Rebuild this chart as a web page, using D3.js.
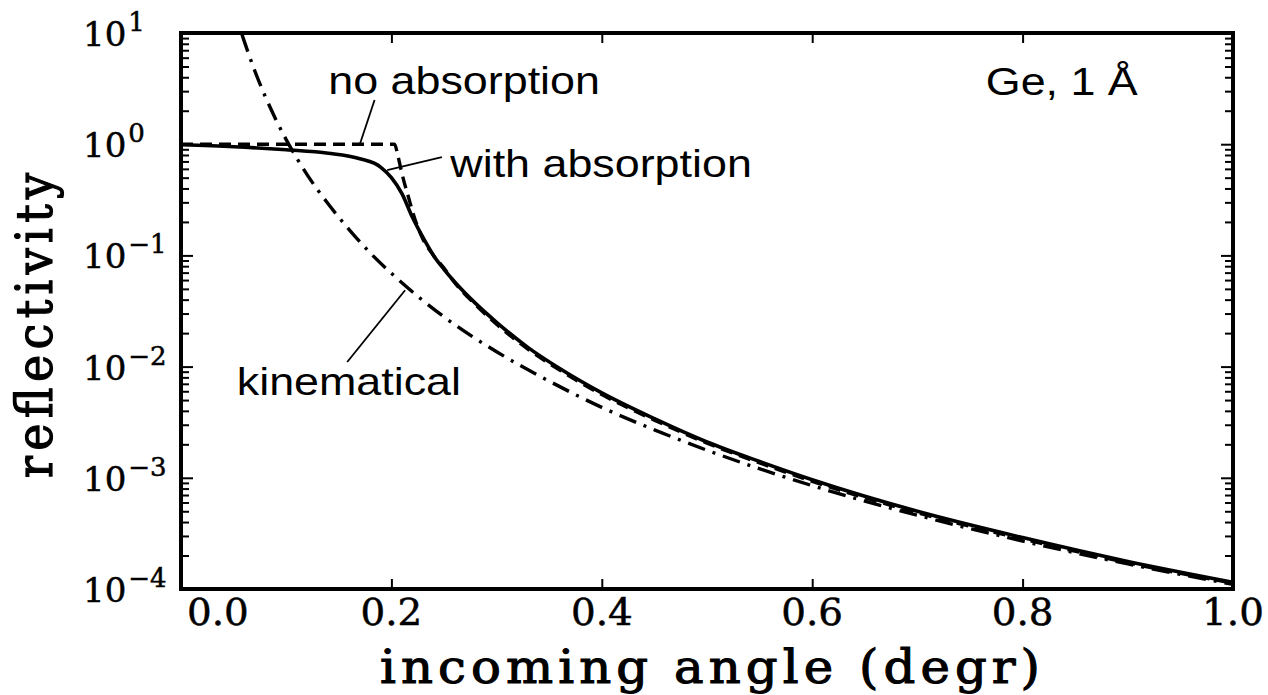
<!DOCTYPE html>
<html>
<head>
<meta charset="utf-8">
<script src="https://cdn.jsdelivr.net/npm/d3@7"></script>
<style>
  html, body { margin: 0; background: #fff; }
  svg { display: block; }
</style>
</head>
<body>
<svg id="chart" width="1268" height="695"></svg>
<script>
// Tick values
const xTickValues = [0, 0.2, 0.4, 0.6, 0.8, 1.0];
const yDecades = [-4, -3, -2, -1, 0, 1];

// Reflectivity with absorption (solid)
const withAbsAngle = [0, 0.05, 0.10, 0.14, 0.17, 0.19, 0.20, 0.21, 0.22, 0.23, 0.24, 0.25, 0.26, 0.28, 0.30, 0.33, 0.36, 0.40, 0.45, 0.50, 0.55, 0.60, 0.70, 0.80, 0.90, 1.00];
const withAbsR     = [0.99, 0.95, 0.89, 0.83, 0.74, 0.62, 0.50, 0.36, 0.22, 0.145, 0.10, 0.075, 0.058, 0.037, 0.025, 0.0148, 0.0096, 0.0058, 0.0034, 0.0021, 0.0014, 0.00096, 0.00050, 0.00029, 0.000177, 0.000115];

// Reflectivity without absorption (dashed)
const noAbsAngle = [0, 0.10, 0.203, 0.206, 0.209, 0.212, 0.216, 0.22, 0.225, 0.23, 0.24, 0.25, 0.26, 0.28, 0.30, 0.33, 0.36, 0.40, 0.45, 0.50, 0.55, 0.60, 0.70, 0.80, 0.90, 1.00];
const noAbsR     = [1.0, 1.0, 1.0, 0.80, 0.60, 0.46, 0.34, 0.25, 0.18, 0.14, 0.10, 0.077, 0.057, 0.036, 0.024, 0.0143, 0.0093, 0.0056, 0.0033, 0.00205, 0.00136, 0.00093, 0.000485, 0.000282, 0.000172, 0.000113];

// Kinematical approximation (dash-dot)
const kinAngle = [0.058, 0.06, 0.07, 0.08, 0.09, 0.10, 0.12, 0.14, 0.16, 0.18, 0.20, 0.25, 0.30, 0.35, 0.40, 0.45, 0.50, 0.60, 0.70, 0.80, 0.90, 1.00];
const kinR     = [9.7, 8.5, 4.6, 2.7, 1.68, 1.10, 0.53, 0.29, 0.17, 0.105, 0.069, 0.028, 0.0136, 0.0074, 0.0043, 0.0027, 0.00177, 0.00085, 0.00046, 0.00027, 0.000168, 0.000110];

// Annotations (anchored in data units)
const noteText  = ["no absorption", "with absorption", "kinematical", "Ge, 1 \u00C5"];
const noteAngle = [0.140, 0.256, 0.053, 0.765];
const noteR     = [2.84, 0.505, 0.00553, 2.77];

const leaderFromAngle = [0.184, 0.248, 0.158];
const leaderFromR     = [2.50, 0.767, 0.011];
const leaderToAngle   = [0.170, 0.196, 0.213];
const leaderToR       = [1.0, 0.586, 0.0486];

const plot = { left: 181, right: 1233, top: 33, bottom: 589 };

const svg = d3.select("#chart");

const x = d3.scaleLinear().domain([0, 1]).range([plot.left, plot.right]);
const y = d3.scaleLog().domain([1e-4, 10]).range([plot.bottom, plot.top]);

svg.append("defs").append("clipPath").attr("id", "plotClip")
  .append("rect")
  .attr("x", plot.left).attr("y", plot.top)
  .attr("width", plot.right - plot.left).attr("height", plot.bottom - plot.top);

const line = d3.line()
  .x(d => x(d[0]))
  .y(d => y(d[1]))
  .curve(d3.curveMonotoneX);

const curves = svg.append("g").attr("clip-path", "url(#plotClip)")
  .attr("fill", "none").attr("stroke", "#000");

curves.append("path")
  .attr("d", line(kinAngle.map((a, i) => [a, kinR[i]])))
  .attr("stroke-width", 3.4)
  .attr("stroke-dasharray", "18,8,3,8");

curves.append("path")
  .attr("d", line(noAbsAngle.map((a, i) => [a, noAbsR[i]])))
  .attr("stroke-width", 3.4)
  .attr("stroke-dasharray", "12,7");

curves.append("path")
  .attr("d", line(withAbsAngle.map((a, i) => [a, withAbsR[i]])))
  .attr("stroke-width", 3.6);

// Leader lines
const leaders = svg.append("g").attr("stroke", "#000").attr("stroke-width", 1.8);
leaderFromAngle.forEach((a, i) => {
  leaders.append("line")
    .attr("x1", x(a)).attr("y1", y(leaderFromR[i]))
    .attr("x2", x(leaderToAngle[i])).attr("y2", y(leaderToR[i]));
});

// Annotation text (Helvetica-like, slightly wide)
noteText.forEach((t, i) => {
  svg.append("text")
    .attr("transform", `translate(${x(noteAngle[i])},${y(noteR[i])}) scale(1.18,1)`)
    .attr("font-family", "'Liberation Sans', Arial, sans-serif")
    .attr("font-size", 38)
    .attr("fill", "#000")
    .text(t);
});

// Axis ticks (inward) on all four sides
function styleAxis(g) {
  g.select(".domain").remove();
  g.selectAll(".tick line").attr("stroke", "#000").attr("stroke-width", 2);
  g.selectAll(".tick text").remove();
}

const xInner = [0.2, 0.4, 0.6, 0.8];
svg.append("g").attr("transform", `translate(0,${plot.bottom})`)
  .call(d3.axisBottom(x).tickValues(xInner).tickSize(-10).tickFormat(""))
  .call(styleAxis);
svg.append("g").attr("transform", `translate(0,${plot.top})`)
  .call(d3.axisTop(x).tickValues(xInner).tickSize(-10).tickFormat(""))
  .call(styleAxis);

const majorY = yDecades.slice(1, -1).map(k => Math.pow(10, k));
const minorY = [];
yDecades.slice(0, -1).forEach(k => {
  for (let m = 2; m <= 9; m++) minorY.push(m * Math.pow(10, k));
});

svg.append("g").attr("transform", `translate(${plot.left},0)`)
  .call(d3.axisLeft(y).tickValues(majorY).tickSize(-12).tickFormat(""))
  .call(styleAxis);
svg.append("g").attr("transform", `translate(${plot.left},0)`)
  .call(d3.axisLeft(y).tickValues(minorY).tickSize(-8).tickFormat(""))
  .call(styleAxis);
svg.append("g").attr("transform", `translate(${plot.right},0)`)
  .call(d3.axisRight(y).tickValues(majorY).tickSize(-12).tickFormat(""))
  .call(styleAxis);
svg.append("g").attr("transform", `translate(${plot.right},0)`)
  .call(d3.axisRight(y).tickValues(minorY).tickSize(-8).tickFormat(""))
  .call(styleAxis);

// Frame
svg.append("rect")
  .attr("x", plot.left).attr("y", plot.top)
  .attr("width", plot.right - plot.left).attr("height", plot.bottom - plot.top)
  .attr("fill", "none").attr("stroke", "#000").attr("stroke-width", 4);

// X tick labels
const serif = "'DejaVu Serif', serif";
const fmt = d3.format(".1f");
xTickValues.forEach(v => {
  const first = v === xTickValues[0];
  svg.append("text")
    .attr("transform", `translate(${first ? x(v) + 6 : x(v)},625) scale(1.05,1)`)
    .attr("text-anchor", first ? "start" : "middle")
    .attr("font-family", serif)
    .attr("font-size", 37)
    .attr("fill", "#000")
    .attr("stroke", "#000").attr("stroke-width", 0.5)
    .text(fmt(v));
});

// Y tick labels: 10 with superscript exponent
yDecades.forEach(k => {
  const t = svg.append("text")
    .attr("transform", `translate(83,${y(Math.pow(10, k)) + 13})`)
    .attr("font-family", serif)
    .attr("fill", "#000")
    .attr("stroke", "#000").attr("stroke-width", 0.5);
  t.append("tspan").attr("font-size", 34).text("10");
  t.append("tspan").attr("font-size", 26).attr("dx", 2).attr("dy", -15)
    .text(k < 0 ? "\u2212" + Math.abs(k) : String(k));
});

// Axis titles
svg.append("text")
  .attr("transform", "translate(380,683) scale(1.08,1)")
  .attr("font-family", serif)
  .attr("font-size", 46)
  .attr("textLength", (1040 - 380) / 1.08)
  .attr("lengthAdjust", "spacing")
  .attr("fill", "#000")
  .attr("stroke", "#000").attr("stroke-width", 1.1)
  .text("incoming angle (degr)");

svg.append("text")
  .attr("transform", "translate(52,478) rotate(-90) scale(1,1.1)")
  .attr("font-family", serif)
  .attr("font-size", 46)
  .attr("textLength", 478 - 173)
  .attr("lengthAdjust", "spacing")
  .attr("fill", "#000")
  .attr("stroke", "#000").attr("stroke-width", 1.1)
  .text("reflectivity");
</script>
</body>
</html>
